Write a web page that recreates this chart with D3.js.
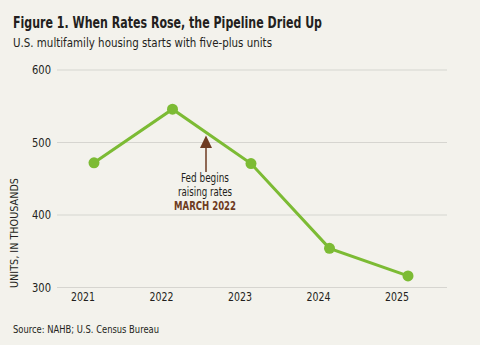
<!DOCTYPE html>
<html>
<head>
<meta charset="utf-8">
<script src="https://cdn.jsdelivr.net/npm/d3@7"></script>
<style>
  body { margin: 0; background: #f3f2ec; }
  svg { display: block; }
  text { font-family: "DejaVu Sans Condensed", "Liberation Sans Narrow", sans-serif; fill: #231f20; }
</style>
</head>
<body>
<div id="chart"></div>
<script>
// data
const years = ['2021', '2022', '2023', '2024', '2025'];
const starts = [472, 546, 471, 354, 316];
const yTicks = [300, 400, 500, 600];

const width = 480;
const height = 345;

const svg = d3.select('#chart')
  .append('svg')
  .attr('width', width)
  .attr('height', height);

svg.append('rect')
  .attr('width', width)
  .attr('height', height)
  .attr('fill', '#f3f2ec');

const x = d3.scalePoint()
  .domain(years)
  .range([94, 408]);

const y = d3.scaleLinear()
  .domain([300, 600])
  .range([287.5, 70]);

// squeezes a label to the width it has in the original (condensed face)
function fit(sel, len) {
  sel.attr('textLength', len).attr('lengthAdjust', 'spacingAndGlyphs');
  return sel;
}

// gridlines
svg.append('g')
  .selectAll('line')
  .data(yTicks)
  .enter()
  .append('line')
  .attr('x1', 57)
  .attr('x2', 447)
  .attr('y1', d => y(d))
  .attr('y2', d => y(d))
  .attr('stroke', '#d6d5d0')
  .attr('stroke-width', 1.2);

// y tick labels
svg.append('g')
  .selectAll('text')
  .data(yTicks)
  .enter()
  .append('text')
  .text(d => d)
  .attr('x', 51)
  .attr('y', d => y(d))
  .attr('dy', '0.35em')
  .attr('text-anchor', 'end')
  .attr('font-size', '11.5px')
  .attr('textLength', 19)
  .attr('lengthAdjust', 'spacingAndGlyphs');

// x tick labels (sit a bit left of the points in the original)
svg.append('g')
  .selectAll('text')
  .data(years)
  .enter()
  .append('text')
  .text(d => d)
  .attr('x', d => x(d) - 11)
  .attr('y', 301)
  .attr('text-anchor', 'middle')
  .attr('font-size', '11.5px')
  .attr('textLength', 24)
  .attr('lengthAdjust', 'spacingAndGlyphs');

// y axis title
fit(svg.append('text')
  .text('UNITS, IN THOUSANDS')
  .attr('transform', 'translate(18,233) rotate(-90)')
  .attr('text-anchor', 'middle')
  .attr('font-size', '10px'), 110);

// line + points
const line = d3.line()
  .x((d, i) => x(years[i]))
  .y(d => y(d));

svg.append('path')
  .datum(starts)
  .attr('d', line)
  .attr('fill', 'none')
  .attr('stroke', '#7cbb34')
  .attr('stroke-width', 3);

svg.append('g')
  .selectAll('circle')
  .data(starts)
  .enter()
  .append('circle')
  .attr('cx', (d, i) => x(years[i]))
  .attr('cy', d => y(d))
  .attr('r', 5.5)
  .attr('fill', '#7cbb34');

// annotation
const brown = '#6e3b22';
svg.append('line')
  .attr('x1', 206).attr('x2', 206)
  .attr('y1', 146).attr('y2', 172)
  .attr('stroke', brown)
  .attr('stroke-width', 1.5);

svg.append('path')
  .attr('d', 'M206,135.5 L200,148 L212,148 Z')
  .attr('fill', brown);

fit(svg.append('text')
  .text('Fed begins')
  .attr('x', 205).attr('y', 182)
  .attr('text-anchor', 'middle')
  .attr('font-size', '11.5px'), 48);

fit(svg.append('text')
  .text('raising rates')
  .attr('x', 205).attr('y', 196)
  .attr('text-anchor', 'middle')
  .attr('font-size', '11.5px'), 54);

fit(svg.append('text')
  .text('MARCH 2022')
  .attr('x', 205).attr('y', 210)
  .attr('text-anchor', 'middle')
  .attr('font-size', '11.5px')
  .attr('font-weight', 'bold')
  .style('fill', brown), 62);

// titles
fit(svg.append('text')
  .text('Figure 1. When Rates Rose, the Pipeline Dried Up')
  .attr('x', 13).attr('y', 28)
  .attr('font-size', '15px')
  .attr('font-weight', 'bold'), 309);

fit(svg.append('text')
  .text('U.S. multifamily housing starts with five-plus units')
  .attr('x', 13).attr('y', 47)
  .attr('font-size', '12.5px'), 259);

fit(svg.append('text')
  .text('Source: NAHB; U.S. Census Bureau')
  .attr('x', 13).attr('y', 333)
  .attr('font-size', '10.5px'), 146);
</script>
</body>
</html>
